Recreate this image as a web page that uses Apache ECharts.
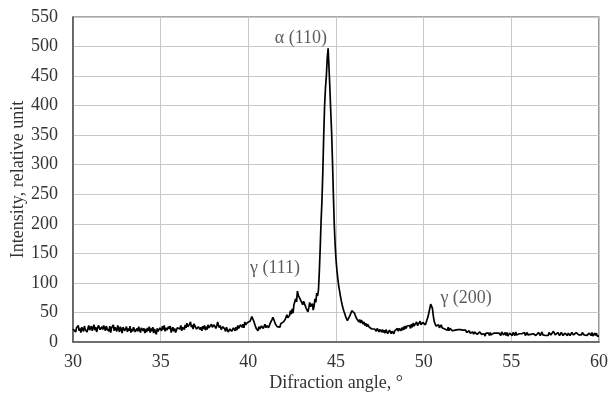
<!DOCTYPE html>
<html>
<head>
<meta charset="utf-8">
<script src="https://cdn.jsdelivr.net/npm/echarts@6/dist/echarts.min.js"></script>
<style>
html,body{margin:0;padding:0;background:#fff;}
#chart{width:609px;height:396px;}
</style>
</head>
<body>
<div id="chart"></div>
<script>
// Diffraction angle (deg): start and step of the scan
const angleStart = 30;
const angleStep = 0.05;
// Intensity, one row per degree (x.00 ... x.95)
const intensity = [
  22,19,25,17,24,21,28,19,23,16,25,22,18,27,21,24,17,23,28,20,
  22,27,19,24,29,20,25,17,23,28,31,21,18,26,21,28,24,19,27,22,
  23,18,27,16,24,21,29,19,25,22,18,28,23,17,26,21,15,25,22,19,
  21,26,17,23,19,27,16,22,18,25,21,17,14,23,18,26,20,16,24,21,
  19,23,15,22,17,24,19,26,16,23,18,25,15,22,17,13,23,18,16,24,
  25,19,27,21,28,18,24,20,17,26,22,27,16,21,25,18,23,16,20,24,
  21,26,22,28,19,25,27,21,29,24,32,26,23,30,34,25,29,22,31,27,
  26,22,20,26,29,21,25,19,27,22,28,20,26,21,29,24,21,27,30,25,
  25,29,32,23,27,34,28,24,28,21,19,26,28,22,18,25,21,17,15,22,
  22,18,16,24,26,19,25,20,28,23,26,29,32,25,30,24,34,29,28,33,
  35,30,35,38,43,44,36,33,27,23,21,19,26,22,20,27,28,23,21,30,
  24,28,30,24,27,32,34,38,42,38,36,30,29,26,24,29,25,31,30,34,
  34,37,38,42,46,41,40,45,53,47,56,49,63,66,73,68,86,79,78,73,
  70,76,63,69,65,62,57,54,51,58,67,60,58,65,54,61,73,67,83,78,
  88,120,160,205,240,290,350,400,430,450,480,497,465,430,390,355,305,250,200,165,
  140,122,108,96,87,78,70,63,57,52,48,43,40,36,33,39,45,48,53,54,
  56,49,47,41,38,41,34,38,32,37,34,30,34,28,32,26,30,29,25,28,
  25,22,23,19,22,24,18,23,20,17,21,22,17,21,16,20,15,21,18,14,
  16,20,17,14,18,21,14,19,16,22,23,18,23,25,19,24,20,26,21,27,
  23,27,28,24,28,23,30,25,32,27,28,30,34,28,29,31,35,29,30,33,
  34,30,29,34,37,43,50,57,64,66,57,44,35,31,27,28,25,29,24,26,
  29,24,25,26,22,23,25,20,25,19,23,22,21,19,20,22,20,19,17,21,
  22,20,21,23,24,20,18,21,20,16,15,18,19,15,12,16,17,13,17,14,
  16,13,12,16,17,18,13,14,16,14,10,15,17,12,15,11,16,12,14,12,
  15,12,12,15,16,12,15,13,11,17,15,12,14,16,11,16,10,13,15,14,
  13,11,16,14,11,17,12,10,15,14,13,11,14,17,12,16,11,14,16,12,
  12,15,13,10,16,14,12,17,11,10,13,16,14,11,11,17,12,15,11,11,
  14,12,11,16,17,12,10,14,18,15,12,11,15,16,14,11,13,16,14,11,
  10,15,15,12,11,15,17,11,10,16,14,12,9,12,16,13,17,12,11,14,
  12,16,15,12,10,15,11,9,14,15,13,11,16,10,13,15,11,15,10,12,
  10
];
// Peak annotations
const peakLabels = ['α (110)', 'γ (111)', 'γ (200)'];
const peakLabelAngles = [43.0, 41.52, 52.42];
const peakLabelValues = [514, 125, 74];

const xTicks = {min: 30, max: 60, interval: 5};
const yTicks = {min: 0, max: 550, interval: 50};

const seriesData = intensity.map((v, i) => [+(angleStart + i * angleStep).toFixed(2), v]);
const labelData = peakLabels.map((t, i) => ({name: t, value: [peakLabelAngles[i], peakLabelValues[i]]}));

const font = 'Liberation Serif';
const textColor = '#333';
const chart = echarts.init(document.getElementById('chart'), null, {renderer: 'canvas'});
chart.setOption({
  animation: false,
  backgroundColor: '#fff',
  grid: {left: 73, right: 10, top: 17, bottom: 54, show: true, containLabel: false,
    outerBoundsMode: 'none',
    borderColor: '#555', borderWidth: 1.2, backgroundColor: 'transparent'},
  xAxis: {
    type: 'value', min: xTicks.min, max: xTicks.max, interval: xTicks.interval,
    name: 'Difraction angle, °', nameLocation: 'middle', nameGap: 32,
    nameMoveOverlap: false,
    nameTextStyle: {fontFamily: font, fontSize: 18, color: textColor},
    axisLine: {show: true, lineStyle: {color: '#555', width: 1.5}},
    axisTick: {show: false},
    axisLabel: {fontFamily: font, fontSize: 18, color: textColor, margin: 11},
    splitLine: {show: true, lineStyle: {color: '#c8c8c8', width: 1}}
  },
  yAxis: {
    type: 'value', min: yTicks.min, max: yTicks.max, interval: yTicks.interval,
    name: 'Intensity, relative unit', nameLocation: 'middle', nameGap: 46,
    nameMoveOverlap: false,
    nameTextStyle: {fontFamily: font, fontSize: 18, color: textColor},
    axisLine: {show: true, lineStyle: {color: '#555', width: 1.5}},
    axisTick: {show: false},
    axisLabel: {fontFamily: font, fontSize: 18, color: textColor, margin: 15},
    splitLine: {show: true, lineStyle: {color: '#c8c8c8', width: 1}}
  },
  series: [{
    type: 'line', data: seriesData, symbol: 'none',
    lineStyle: {color: '#000', width: 1.7}
  }, {
    type: 'scatter', data: labelData, symbolSize: 1,
    itemStyle: {color: 'rgba(0,0,0,0)'},
    label: {show: true, position: 'inside', formatter: p => p.name,
      fontFamily: font, fontSize: 18, color: textColor},
    silent: true, z: 5
  }]
});
</script>
</body>
</html>
